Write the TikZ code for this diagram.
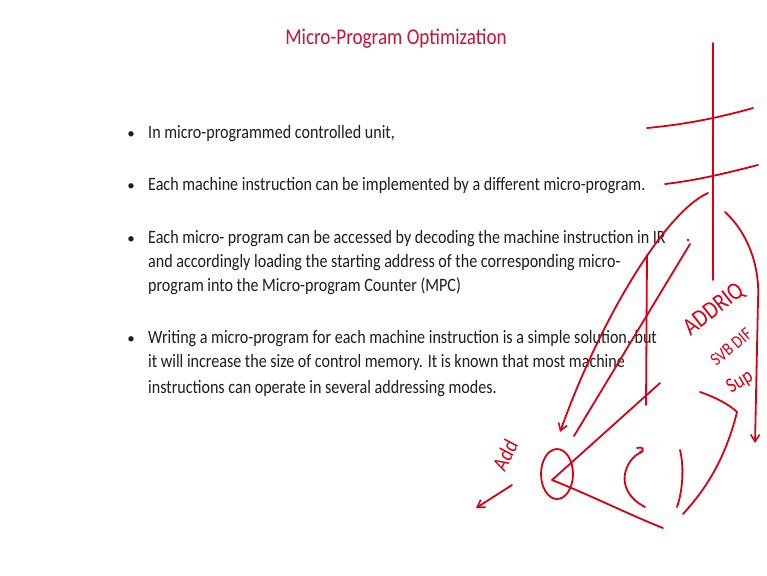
\documentclass[tikz,border=0pt]{standalone}
\usepackage{fontspec}
\setmainfont{Carlito}
\newfontfamily\slidefont[FakeStretch=0.85]{Carlito}
\usetikzlibrary{arrows.meta}
\definecolor{titlered}{RGB}{200,20,50}
\definecolor{ink}{RGB}{215,0,20}
\definecolor{bodytext}{RGB}{30,30,30}
\tikzset{
  body/.style={anchor=base west, inner sep=0pt, text=bodytext, font=\slidefont\fontsize{18.9}{20}\selectfont},
  dot/.style={anchor=base, inner sep=0pt, text=bodytext, font=\fontsize{15}{18}\selectfont},
  pen/.style={draw=ink, line width=1.8pt, line cap=round, line join=round},
  penarrow/.style={pen, -{Straight Barb[length=7pt,width=9pt,line width=1.6pt]}},
  scrawl/.style={text=ink, inner sep=0pt, font=\slidefont\fontsize{24}{24}\selectfont}
}
\begin{document}
\begin{tikzpicture}[x=1pt,y=-1pt]
\useasboundingbox[fill=white] (0,0) rectangle (767,575);

% title
\node[text=titlered, font=\slidefont\fontsize{22.5}{24}\selectfont, anchor=base] (title) at (396,45) {Micro-Program Optimization};

% bullet list
\node[dot] (b1) at (131,138) {•};
\node[body] (l1) at (148,138) {In micro-programmed controlled unit,};
\node[dot] (b2) at (131,190) {•};
\node[body] (l2) at (148,190) {Each machine instruction can be implemented by a different micro-program.};
\node[dot] (b3) at (131,243) {•};
\node[body] (l3a) at (148,243) {Each micro- program can be accessed by decoding the machine instruction in IR};
\node[body] (l3b) at (148,267) {and accordingly loading the starting address of the corresponding micro-};
\node[body] (l3c) at (148,291) {program into the Micro-program Counter (MPC)};
\node[dot] (b4) at (131,343) {•};
\node[body] (l4a) at (148,343) {Writing a micro-program for each machine instruction is a simple solution, but};
\node[body] (l4b) at (148,367) {it will increase the size of control memory. It is known that most machine};
\node[body] (l4c) at (148,393) {instructions can operate in several addressing modes.};

% pen annotations: memory column with two cross strokes
\draw[pen] (713,43) -- (713,280);
\draw[pen] (647,128) .. controls (690,124) and (725,116) .. (753,108);
\draw[pen] (665,184) .. controls (700,180) and (730,172) .. (758,165);

% word drawn as a circled node with its fan of strokes
\coordinate (apex) at (552,480);
\draw[pen] (557,474) ellipse [x radius=16, y radius=25];
\draw[penarrow] (708,193) .. controls (665,212) and (600,320) .. (560,432);
\fill[ink] (688,240) circle (1.3);
\draw[pen] (690,244) -- (574,436);
\draw[pen] (647,255) -- (646,405);
\draw[pen] (apex) -- (660,383);
\draw[pen] (apex) .. controls (590,495) and (630,515) .. (663,528);

% brackets
\draw[pen] (642,452) .. controls (625,458) and (612,490) .. (645,507);
\draw[pen] (637,448) .. controls (642,446) and (646,450) .. (640,452);
\draw[pen] (680,450) .. controls (684,466) and (683,490) .. (677,507);
\draw[pen] (683,514) .. controls (705,490) and (725,460) .. (737,412);

% right arc down to the bottom arrow
\draw[penarrow] (725,212) .. controls (750,235) and (760,270) .. (758,300) -- (755,443);

% scrawled labels
\node[scrawl, rotate=38, font=\slidefont\fontsize{25}{25}\selectfont] (w1) at (714,310) {ADDRIQ};
\node[scrawl, rotate=40, font=\slidefont\fontsize{18}{18}\selectfont] (w2) at (731,347) {SVB DIF};
\node[scrawl, rotate=31, font=\slidefont\fontsize{21}{21}\selectfont] (w3) at (740,382) {Sup};
\draw[pen] (700,392) .. controls (715,397) and (730,405) .. (737,412);
\node[scrawl, rotate=62, font=\slidefont\fontsize{22}{22}\selectfont] (w4) at (505,455) {Add};
\coordinate (addtail) at (512,485);
\coordinate (addtip) at (476,508);
\draw[penarrow] (addtail) -- (addtip);
\end{tikzpicture}
\end{document}
